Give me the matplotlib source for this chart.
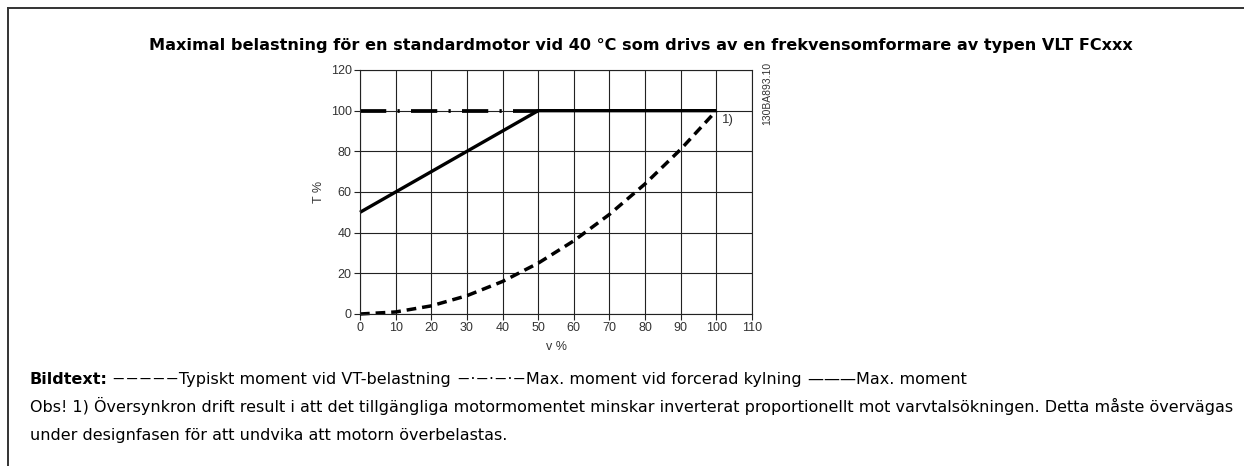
import numpy as np
import matplotlib
matplotlib.use("Agg")
import matplotlib.pyplot as plt
from matplotlib.lines import Line2D

# speed in % of nominal and the torque curves in %
speed = [0, 10, 20, 30, 40, 50, 60, 70, 80, 90, 100]
vt_torque = [0, 1, 4, 9, 16, 25, 36, 49, 64, 81, 100]
max_speed = [0, 50, 100]
max_torque = [50, 100, 100]
forced_speed = [0, 50]
forced_torque = [100, 100]

x_ticks = list(range(0, 111, 10))
y_ticks = list(range(0, 121, 20))

title = "Maximal belastning för en standardmotor vid 40 °C som drivs av en frekvensomformare av typen VLT FCxxx"
legend_head = "Bildtext:"
# pieces of the caption line, drawn one after the other
legend_parts = [
    "\u2212\u2212\u2212\u2212\u2212Typiskt moment vid VT-belastning ",
    "\u2212\u00b7\u2212\u00b7\u2212\u00b7\u2212Max. moment vid forcerad kylning ",
    "\u2014\u2014\u2014Max. moment",
]
note_1 = ("Obs! 1) Översynkron drift result i att det tillgängliga motormomentet minskar "
          "inverterat proportionellt mot varvtalsökningen. Detta måste övervägas")
note_2 = "under designfasen för att undvika att motorn överbelastas."

W, H = 1244, 466
TXT = 11.5
fig = plt.figure(figsize=(W / 100, H / 100), dpi=100)
fig.patch.set_facecolor("white")

ax = fig.add_axes([360 / W, 1 - 314 / H, 392 / W, 244 / H])
ax.set_xlim(0, 110)
ax.set_ylim(0, 120)
ax.set_xticks(x_ticks)
ax.set_yticks(y_ticks)
ax.grid(True, color="#222222", lw=0.8)
ax.set_axisbelow(True)
for s in ax.spines.values():
    s.set_color("#222222")
    s.set_linewidth(0.8)
ax.tick_params(direction="out", length=4, width=0.8, color="#222222",
               labelsize=9, labelcolor="#333333", pad=2)
for lab in ax.get_xticklabels() + ax.get_yticklabels():
    lab.set_family("Liberation Sans")

ax.plot(speed, vt_torque, color="black", lw=2.5, ls=(0, (2.8, 1.7)),
        dash_capstyle="butt", clip_on=False)
ax.plot(forced_speed, forced_torque, color="black", lw=2.7,
        ls=(0, (7, 3, 0.6, 3)), dash_capstyle="butt", clip_on=False)
ax.plot(max_speed, max_torque, color="black", lw=2.4, solid_capstyle="butt",
        clip_on=False)

ax.text(101.5, 95.5, "1)", fontsize=9.5, family="Liberation Sans",
        color="#333333", ha="left", va="center")
ax.set_xlabel("v %", fontsize=9, family="Liberation Sans", color="#333333",
              labelpad=5)
ax.set_ylabel("T %", fontsize=9, family="Liberation Sans", color="#333333",
              labelpad=4)
fig.text(767 / W, 1 - 93 / H, "130BA893.10", rotation=90, fontsize=7.5,
         family="Liberation Sans", color="#333333", ha="center", va="center")

# page frame: left and top rule
fig.add_artist(Line2D([8 / W, 8 / W], [0, 1 - 8 / H], color="#333333", lw=1.4))
fig.add_artist(Line2D([8 / W, 1], [1 - 8 / H, 1 - 8 / H], color="#333333", lw=1.4))

fig.text(641 / W, 1 - 50 / H, title, fontsize=11.6, fontweight="bold",
         family="DejaVu Sans", ha="center", va="baseline")

fig.canvas.draw()
renderer = fig.canvas.get_renderer()
head = fig.text(30 / W, 1 - 384 / H, legend_head, fontsize=TXT, fontweight="bold",
                family="DejaVu Sans", ha="left", va="baseline")
x = head.get_window_extent(renderer).x1 + 4
for s in legend_parts:
    t = fig.text(x / W, 1 - 384 / H, s, fontsize=TXT,
                 family="DejaVu Sans", ha="left", va="baseline")
    x = t.get_window_extent(renderer).x1 + 1
fig.text(30 / W, 1 - 412 / H, note_1, fontsize=TXT, family="DejaVu Sans",
         ha="left", va="baseline")
fig.text(30 / W, 1 - 440 / H, note_2, fontsize=TXT, family="DejaVu Sans",
         ha="left", va="baseline")

fig.savefig("out.png", dpi=100)
